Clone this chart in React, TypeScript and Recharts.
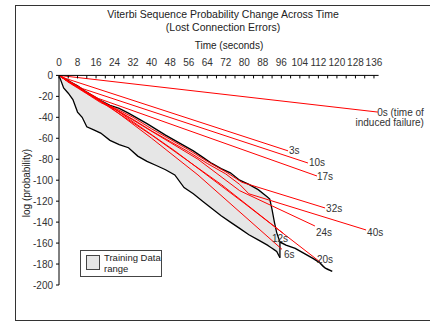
import React from 'react';
import { ComposedChart, Area, Line, XAxis, YAxis } from 'recharts';

// axis ticks
const timeTicks = [0, 4, 8, 12, 16, 20, 24, 28, 32, 36, 40, 44, 48, 52, 56, 60, 64, 68, 72, 76, 80, 84, 88, 92, 96, 100, 104, 108, 112, 116, 120, 124, 128, 132, 136];
const probTicks = [0, -20, -40, -60, -80, -100, -120, -140, -160, -180, -200];

// training data range (grey band)
const bandTime = [0, 2, 4, 6, 8, 10, 12, 15, 18, 22, 26, 30, 34, 38, 42, 46, 50, 54, 58, 62, 66, 70, 74, 78, 82, 86, 90, 91, 92, 93, 94, 95.4];
const bandHigh = [0, -2.5, -5, -7.5, -10, -13, -16, -20, -24, -28.5, -31.5, -36, -41, -46, -51.5, -57, -62, -67, -72, -78, -84, -89, -93, -100, -104, -109, -116, -118, -128, -140, -150, -159];
const bandLow = [0, -12, -17, -23, -35, -40, -49, -52, -55, -62, -66, -69, -77, -82, -86, -90, -95, -107, -113, -120, -127, -134, -140, -146, -152, -157, -162, -163.5, -165, -166.5, -168, -174];

// longest training run, after the band ends
const tailRun = [[95.4, -159], [98, -162], [102, -165], [106, -170], [110, -175], [112.7, -179], [114, -182], [115, -184], [116, -185], [118, -187]];
const bandEdge = [[95.4, -159], [95.4, -174]];

// failure runs: [time, log prob]
const run0s = [[0, 0], [137.7, -35]];
const run3s = [[0, 0], [3, -3], [98.9, -72]];
const run10s = [[0, 0], [4, -5], [8, -10], [10, -12.5], [107.5, -83.6]];
const run17s = [[0, 0], [4, -5.5], [8, -11], [12, -16], [17, -22], [111.4, -96]];
const run24s = [[0, 0], [4, -6], [8, -11], [12, -17], [16, -22], [20, -27], [24, -32], [60, -80], [78, -110], [110.5, -143.7]];
const run32s = [[0, 0], [4, -6], [8, -11], [12, -17], [18, -25], [24, -31], [32, -40], [40, -51], [48, -61], [56, -71], [64, -82], [72, -92], [79, -102], [114.9, -126.5]];
const run40s = [[0, 0], [4, -6.5], [8, -12], [12, -17.5], [18, -26], [24, -32], [32, -42], [40, -53], [48, -63], [56, -73], [64, -84], [72, -94], [78, -104], [82, -113], [132.6, -147.5]];
const run12s = [[0, 0], [4, -6], [8, -11], [12, -16.5], [18, -25], [40, -57], [70, -104], [96.7, -150.5]];
const run6s = [[0, 0], [4, -6], [8, -11], [12, -16.5], [16, -21.5], [22, -30], [40, -60], [60, -95], [96.3, -166]];
const run20s = [[0, 0], [4, -6], [8, -11], [14, -19], [20, -27], [24, -32], [50, -72], [80, -122], [112.7, -178]];

const runs = [
  { name: '0s', pts: run0s, dx: 46, dy: 1 },
  { name: '3s', pts: run3s, dx: 1, dy: 1 },
  { name: '10s', pts: run10s, dx: 1, dy: 0 },
  { name: '17s', pts: run17s, dx: 0, dy: 1 },
  { name: '24s', pts: run24s, dx: 1, dy: 7 },
  { name: '32s', pts: run32s, dx: 1, dy: 1 },
  { name: '40s', pts: run40s, dx: 1, dy: 3 },
  { name: '12s', pts: run12s, dx: -11, dy: 6 },
  { name: '6s', pts: run6s, dx: 2, dy: 6 },
  { name: '20s', pts: run20s, dx: -3, dy: -2 },
];

const bandRows = bandTime.map((t, i) => ({ t, range: [bandLow[i], bandHigh[i]] }));
const toRows = (pts: number[][]) => pts.map(([t, v]) => ({ t, v }));

const font = '"Liberation Sans", Arial, sans-serif';

function endLabel(name: string, count: number, dx: number, dy: number) {
  return (p: any) => {
    if (p.index !== count - 1) return null;
    const x = Number(p.x) + dx;
    const y = Number(p.y) + dy;
    if (name === '0s') {
      return (
        <text x={x} y={y} fontSize={10} fill="#333" fontFamily={font} textAnchor="end" dominantBaseline="middle">
          <tspan x={x} y={y}>0s (time of</tspan>
          <tspan x={x} y={y + 10}>induced failure)</tspan>
        </text>
      );
    }
    return (
      <text x={x} y={y} fontSize={10} fill="#333" fontFamily={font} dominantBaseline="middle">
        {name}
      </text>
    );
  };
}

export default function App() {
  return (
    <div style={{ position: 'absolute', left: 0, top: 0, width: 430, height: 325, background: '#fff', fontFamily: font, overflow: 'hidden' }}>
      <div style={{ position: 'absolute', left: 15, top: 5, width: 430, height: 314, border: '1.5px solid #333' }} />
      <div style={{ position: 'absolute', left: 0, width: 446, top: 8, textAlign: 'center', fontSize: 10.5, color: '#222', lineHeight: '13px' }}>
        Viterbi Sequence Probability Change Across Time
        <br />
        (Lost Connection Errors)
      </div>
      <div style={{ position: 'absolute', left: 0, width: 458, top: 40, textAlign: 'center', fontSize: 10, color: '#222' }}>
        Time (seconds)
      </div>
      <div style={{ position: 'absolute', left: 26, top: 183, width: 0, height: 0 }}>
        <div style={{ position: 'absolute', transform: 'translate(-50%, -50%) rotate(-90deg)', whiteSpace: 'nowrap', fontSize: 10, color: '#222' }}>
          log (probability)
        </div>
      </div>

      <ComposedChart width={430} height={325} margin={{ top: 55.4, left: 29, right: 51.4, bottom: 40 }} style={{ position: 'absolute', left: 0, top: 0 }}>
        <XAxis
          type="number"
          dataKey="t"
          orientation="top"
          domain={[0, 138]}
          allowDataOverflow
          ticks={timeTicks}
          interval={0}
          tickFormatter={(v: number) => (v % 8 === 0 ? String(v) : '')}
          height={20}
          tickSize={-3}
          tickMargin={12}
          axisLine={{ stroke: '#000' }}
          tickLine={{ stroke: '#000' }}
          tick={{ fontSize: 10, fill: '#333', fontFamily: font }}
        />
        <YAxis
          type="number"
          domain={[-200, 0]}
          allowDataOverflow
          ticks={probTicks}
          interval={0}
          width={30}
          tickSize={3}
          tickMargin={3}
          axisLine={{ stroke: '#000' }}
          tickLine={{ stroke: '#000' }}
          tick={{ fontSize: 10, fill: '#333', fontFamily: font }}
        />
        <Area
          data={bandRows}
          dataKey="range"
          type="linear"
          stroke="#000"
          strokeWidth={1.3}
          fill="#e6e6e6"
          fillOpacity={1}
          isAnimationActive={false}
          dot={false}
          activeDot={false}
        />
        <Line data={toRows(bandEdge)} dataKey="v" type="linear" stroke="#000" strokeWidth={1.3} dot={false} activeDot={false} isAnimationActive={false} />
        {runs.map((r) => (
          <Line
            key={r.name}
            data={toRows(r.pts)}
            dataKey="v"
            type="linear"
            stroke="#ff0000"
            strokeWidth={1}
            dot={false}
            activeDot={false}
            isAnimationActive={false}
            label={endLabel(r.name, r.pts.length, r.dx, r.dy)}
          />
        ))}
        <Line data={toRows(tailRun)} dataKey="v" type="linear" stroke="#000" strokeWidth={1.5} dot={false} activeDot={false} isAnimationActive={false} />
      </ComposedChart>

      <div style={{ position: 'absolute', left: 80, top: 250, width: 80, height: 25, border: '1px solid #444', background: '#fff' }}>
        <div style={{ position: 'absolute', left: 5, top: 4, width: 12, height: 13, border: '1.5px solid #444', background: '#e6e6e6' }} />
        <div style={{ position: 'absolute', left: 23, top: 2, fontSize: 9.5, lineHeight: '10.5px', color: '#222' }}>
          Training Data
          <br />
          range
        </div>
      </div>
    </div>
  );
}
